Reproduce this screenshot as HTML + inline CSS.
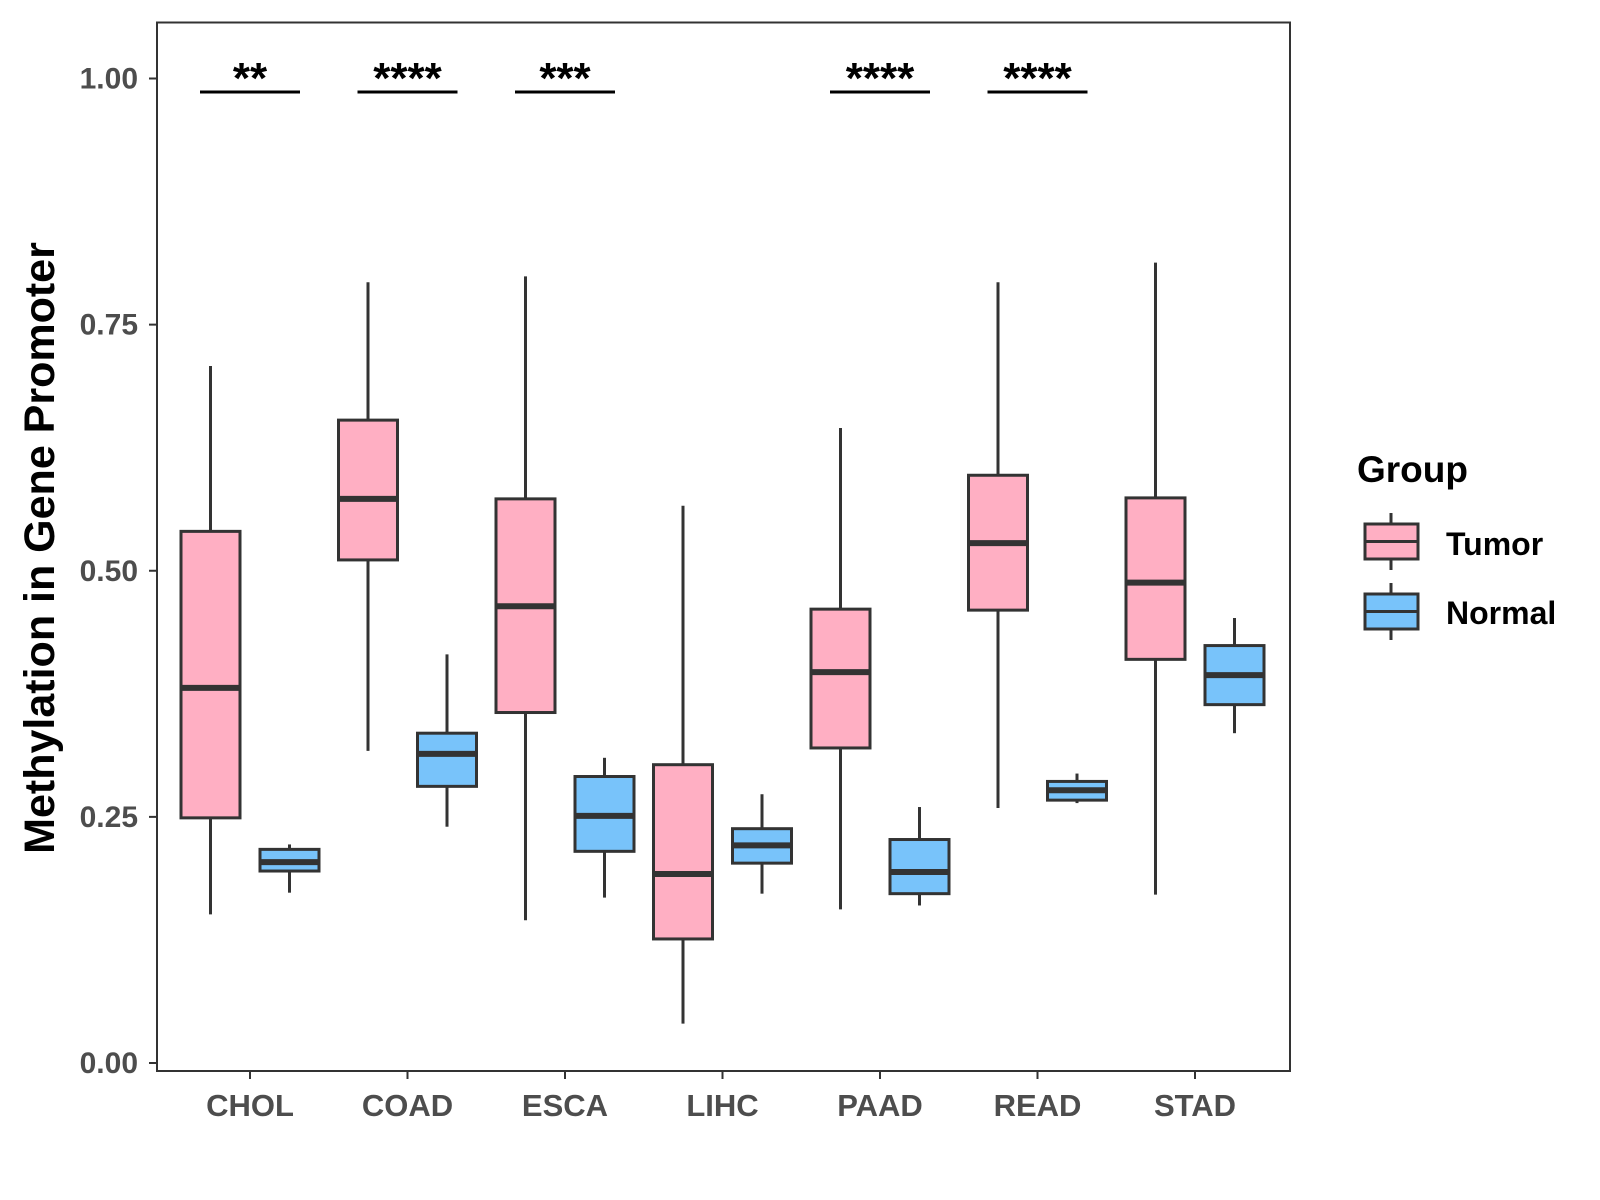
<!DOCTYPE html>
<html><head><meta charset="utf-8"><style>
html,body{margin:0;padding:0;background:#fff;}
svg{display:block;font-family:"Liberation Sans",Arial,sans-serif;}
</style></head><body>
<svg id="chart" width="1600" height="1200" xmlns="http://www.w3.org/2000/svg">
<rect x="157" y="22.5" width="1133" height="1048.5" fill="#fff" stroke="#333" stroke-width="2"/>
<g id="yaxis"></g>
<g id="xaxis"></g>
<g id="boxes"></g>
<g id="sig"></g>
<text x="54" y="548" transform="rotate(-90 54 548)" text-anchor="middle" font-size="43" font-weight="bold" fill="#000">Methylation in Gene Promoter</text>
<g>
<text x="1357" y="482" font-size="37" font-weight="bold" fill="#000">Group</text>
<g>
<line x1="1391" y1="513" x2="1391" y2="570" stroke="#333" stroke-width="3"/>
<rect x="1365" y="524" width="53" height="35" fill="#ffafc3" stroke="#333" stroke-width="3"/>
<line x1="1365" y1="541.5" x2="1418" y2="541.5" stroke="#333" stroke-width="3"/>
<text x="1446" y="555" font-size="32" font-weight="bold" fill="#000">Tumor</text>
</g>
<g>
<line x1="1391" y1="583" x2="1391" y2="640" stroke="#333" stroke-width="3"/>
<rect x="1365" y="594" width="53" height="35" fill="#78c3fa" stroke="#333" stroke-width="3"/>
<line x1="1365" y1="611.5" x2="1418" y2="611.5" stroke="#333" stroke-width="3"/>
<text x="1446" y="624" font-size="32" font-weight="bold" fill="#000">Normal</text>
</g>
</g>
</svg>
<script>
const categories = ["CHOL","COAD","ESCA","LIHC","PAAD","READ","STAD"];
// [whiskerLow, q1, median, q3, whiskerHigh]
const tumorStats = [
 [0.151,0.249,0.381,0.540,0.708],
 [0.317,0.511,0.573,0.653,0.793],
 [0.145,0.356,0.464,0.573,0.799],
 [0.040,0.126,0.192,0.303,0.566],
 [0.156,0.320,0.397,0.461,0.645],
 [0.259,0.460,0.528,0.597,0.793],
 [0.171,0.410,0.488,0.574,0.813]
];
const normalStats = [
 [0.173,0.195,0.204,0.217,0.222],
 [0.240,0.281,0.314,0.335,0.415],
 [0.168,0.215,0.251,0.291,0.310],
 [0.172,0.203,0.221,0.238,0.273],
 [0.160,0.172,0.194,0.227,0.260],
 [0.264,0.267,0.277,0.286,0.294],
 [0.335,0.364,0.394,0.424,0.452]
];
const yTicks = [0, 0.25, 0.5, 0.75, 1.0];
const yTickLabels = ["0.00","0.25","0.50","0.75","1.00"];
const sigLabels = ["**","****","***","","****","****",""];

const NS="http://www.w3.org/2000/svg";
const y = v => 1063 - v*(1063-78.5);
const x = i => 250 + i*157.5;
function mk(tag, attrs, parent){const e=document.createElementNS(NS,tag);for(const k in attrs)e.setAttribute(k,attrs[k]);parent.appendChild(e);return e;}
const ya=document.getElementById('yaxis'), xa=document.getElementById('xaxis'), bx=document.getElementById('boxes'), sg=document.getElementById('sig');
yTicks.forEach((t,i)=>{
 const l=mk('line',{x1:149,x2:157,y1:y(t),y2:y(t),stroke:'#333','stroke-width':2},ya);
 
 
 const tx=mk('text',{x:138,y:y(t)+10,'text-anchor':'end','font-size':30,'font-weight':'bold',fill:'#4d4d4d'},ya);
 tx.textContent=yTickLabels[i];
 
 
});
categories.forEach((c,i)=>{
 const l=mk('line',{x1:x(i),x2:x(i),y1:1071,y2:1079,stroke:'#333','stroke-width':2},xa);
 
 
 const tx=mk('text',{x:x(i),y:1116,'text-anchor':'middle','font-size':31,'font-weight':'bold',fill:'#4d4d4d'},xa);
 tx.textContent=c;
 
 
});
function drawBox(s, cx, fill, name){
 const g=mk('g',{},bx);
 
 
 const w=59;
 mk('line',{x1:cx,x2:cx,y1:y(s[0]),y2:y(s[1]),stroke:'#333','stroke-width':3},g);
 mk('line',{x1:cx,x2:cx,y1:y(s[3]),y2:y(s[4]),stroke:'#333','stroke-width':3},g);
 mk('rect',{x:cx-w/2,y:y(s[3]),width:w,height:y(s[1])-y(s[3]),fill:fill,stroke:'#333','stroke-width':3},g);
 mk('line',{x1:cx-w/2,x2:cx+w/2,y1:y(s[2]),y2:y(s[2]),stroke:'#333','stroke-width':6},g);
}
categories.forEach((c,i)=>{
 drawBox(tumorStats[i], x(i)-39.5, '#ffafc3', 'box-tumor-'+c.toLowerCase());
 drawBox(normalStats[i], x(i)+39.5, '#78c3fa', 'box-normal-'+c.toLowerCase());
 if(sigLabels[i]){
  const l=mk('line',{x1:x(i)-50,x2:x(i)+50,y1:92,y2:92,stroke:'#000','stroke-width':3},sg);
  
  
  const t=mk('text',{x:x(i),y:93,'text-anchor':'middle','font-size':44,'font-weight':'bold',fill:'#000'},sg);
  t.textContent=sigLabels[i];
  
  
 }
});
</script>
</body></html>
